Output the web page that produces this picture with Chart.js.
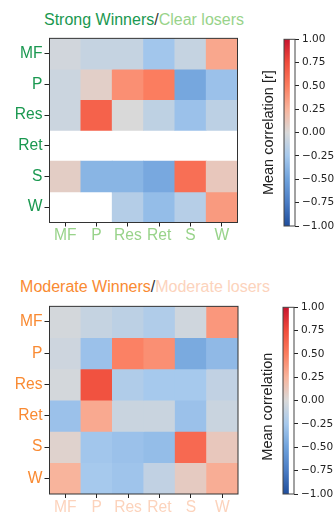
<!DOCTYPE html>
<html>
<head>
<meta charset="utf-8">
<script src="https://cdn.jsdelivr.net/npm/chart.js@4.4.1/dist/chart.umd.min.js"></script>
<style>
  body { margin: 0; background: #fff; width: 336px; height: 521px; position: relative; overflow: hidden; }
  canvas { position: absolute; }
  .title { position: absolute; width: 400px; text-align: center; white-space: nowrap;
           font-family: "Liberation Sans", Arial, sans-serif; font-size: 16px; line-height: 18px; }
</style>
</head>
<body>
<div class="title" style="left:-56px; top:10.5px">
  <span style="color:#1a9850">Strong Winners</span><span style="color:#333">/</span><span style="color:#98d38a">Clear losers</span>
</div>
<div class="title" style="left:-55px; top:277.5px">
  <span style="color:#f98a32">Moderate Winners</span><span style="color:#333">/</span><span style="color:#fcd3bc">Moderate losers</span>
</div>

<canvas id="heatTop" width="242" height="226" style="left:0; top:27px"></canvas>
<canvas id="barTop" width="81" height="206" style="left:255px; top:30px"></canvas>
<canvas id="heatBottom" width="242" height="230" style="left:0; top:295px"></canvas>
<canvas id="barBottom" width="82" height="206" style="left:254px; top:298px"></canvas>

<script>
// Row / column labels (same order on both axes)
const rowLabels = ['MF', 'P', 'Res', 'Ret', 'S', 'W'];
const colLabels = ['MF', 'P', 'Res', 'Ret', 'S', 'W'];

// Mean correlation, Strong Winners / Clear losers (null = no data)
const strongMF  = [-0.04, -0.10, -0.10, -0.27, -0.10,  0.31];
const strongP   = [-0.07,  0.07,  0.42,  0.50, -0.47, -0.30];
const strongRes = [-0.07,  0.64,  0.00, -0.13, -0.30, -0.14];
const strongRet = [ null,  null,  null,  null,  null,  null];
const strongS   = [ 0.08, -0.38, -0.38, -0.46,  0.57,  0.12];
const strongW   = [ null,  null, -0.18, -0.33, -0.17,  0.37];

// Mean correlation, Moderate Winners / Moderate losers
const moderateMF  = [-0.03, -0.10, -0.14, -0.20, -0.05,  0.38];
const moderateP   = [-0.06, -0.30,  0.48,  0.42, -0.45, -0.35];
const moderateRes = [-0.03,  0.72, -0.20, -0.25, -0.25, -0.12];
const moderateRet = [-0.30,  0.30, -0.08, -0.08, -0.30, -0.08];
const moderateS   = [ 0.05, -0.27, -0.30, -0.33,  0.60,  0.12];
const moderateW   = [ 0.25, -0.25, -0.28, -0.12,  0.10,  0.28];

// Colour bar ticks and colormap stops
const colorbarTicks = [-1, -0.75, -0.5, -0.25, 0, 0.25, 0.5, 0.75, 1];
const cmapStops = [
  [-1.00, '#1f4e9c'],
  [-0.75, '#4a7cc4'],
  [-0.50, '#6fa2dc'],
  [-0.25, '#a6c9ed'],
  [ 0.00, '#d9d9d9'],
  [ 0.25, '#f8b49c'],
  [ 0.50, '#fb7d5f'],
  [ 0.75, '#f04c3c'],
  [ 1.00, '#c8142e'],
];

Chart.defaults.font.family = '"Liberation Sans", Arial, sans-serif';
Chart.defaults.animation = false;

function hexToRgb(hex) {
  const n = parseInt(hex.slice(1), 16);
  return [(n >> 16) & 255, (n >> 8) & 255, n & 255];
}

// Linear interpolation inside the colormap
function corrColor(v) {
  v = Math.max(-1, Math.min(1, v));
  for (let k = 0; k < cmapStops.length - 1; k++) {
    const [v0, c0] = cmapStops[k];
    const [v1, c1] = cmapStops[k + 1];
    if (v >= v0 && v <= v1) {
      const t = (v - v0) / (v1 - v0);
      const a = hexToRgb(c0), b = hexToRgb(c1);
      const rgb = a.map((x, i) => Math.round(x + (b[i] - x) * t));
      return `rgb(${rgb.join(',')})`;
    }
  }
  return cmapStops[cmapStops.length - 1][1];
}

// Draws the box round the plot area
const framePlugin = {
  id: 'frame',
  afterDatasetsDraw(chart, args, opts) {
    const { ctx, chartArea: { left, top, right, bottom } } = chart;
    ctx.save();
    ctx.strokeStyle = opts.color || '#333';
    ctx.lineWidth = 1;
    ctx.strokeRect(left, top, right - left, bottom - top);
    ctx.restore();
  }
};

function buildHeatmap(canvasId, matrix, cfg) {
  const datasets = rowLabels.map((row, i) => ({
    label: row,
    data: matrix[i].map(v => (v === null ? null : [i, i + 1])),
    backgroundColor: matrix[i].map(v => (v === null ? 'rgba(0,0,0,0)' : corrColor(v))),
    borderWidth: 0,
    grouped: false,
    barPercentage: 1,
    categoryPercentage: 1,
  }));

  return new Chart(document.getElementById(canvasId), {
    type: 'bar',
    data: { labels: colLabels, datasets },
    plugins: [framePlugin],
    options: {
      responsive: false,
      layout: { padding: { top: 10.5, right: cfg.padRight, left: 0, bottom: 0 } },
      plugins: { legend: { display: false }, tooltip: { enabled: false }, frame: { color: '#333' } },
      scales: {
        x: {
          offset: true,
          grid: { offset: false, drawOnChartArea: false, tickLength: 4, color: '#222' },
          border: { display: false },
          ticks: { color: cfg.xColor, font: { size: 15.6 }, padding: 0, maxRotation: 0, autoSkip: false },
          afterFit: scale => { scale.height = cfg.xHeight; },
        },
        y: {
          type: 'linear',
          min: 0,
          max: rowLabels.length,
          reverse: true,
          grid: { drawOnChartArea: false, tickLength: 5, color: '#222' },
          border: { display: false },
          afterBuildTicks: scale => { scale.ticks = rowLabels.map((_, i) => ({ value: i + 0.5 })); },
          ticks: {
            color: cfg.yColor,
            font: { size: 15.6 },
            padding: 2,
            callback: value => rowLabels[Math.floor(value)],
          },
          afterFit: scale => { scale.width = 49.5; },
        },
      },
    },
  });
}

function buildColorbar(canvasId, title, rightWidth) {
  return new Chart(document.getElementById(canvasId), {
    type: 'bar',
    data: {
      labels: ['cb'],
      datasets: [{
        data: [[-1, 1]],
        yAxisID: 'y',
        borderWidth: 0,
        barPercentage: 1,
        categoryPercentage: 1,
        backgroundColor(ctx) {
          const chart = ctx.chart;
          if (!chart.chartArea) return null;
          const y = chart.scales.y;
          const g = chart.ctx.createLinearGradient(0, y.getPixelForValue(-1), 0, y.getPixelForValue(1));
          cmapStops.forEach(([v, c]) => g.addColorStop((v + 1) / 2, c));
          return g;
        },
      }],
    },
    plugins: [framePlugin],
    options: {
      responsive: false,
      layout: { padding: { top: 7.5, bottom: 10, left: 0, right: 0 } },
      plugins: { legend: { display: false }, tooltip: { enabled: false }, frame: { color: '#444' } },
      scales: {
        x: { display: false, offset: false },
        yTitle: {
          type: 'linear',
          position: 'left',
          min: -1,
          max: 1,
          grid: { display: false },
          border: { display: false },
          ticks: { display: false },
          title: {
            display: true,
            text: title,
            color: '#222',
            font: { size: 14.5 },
            padding: { top: 5.3, bottom: 0 },
          },
          afterFit: scale => { scale.width = 29; },
        },
        y: {
          type: 'linear',
          position: 'right',
          min: -1,
          max: 1,
          grid: { drawOnChartArea: false, tickLength: 4, color: '#222' },
          border: { display: false },
          afterBuildTicks: scale => { scale.ticks = colorbarTicks.map(v => ({ value: v })); },
          ticks: {
            color: '#222',
            padding: 3,
            font: { family: '"DejaVu Sans", sans-serif', size: 10.5 },
            callback: value => value.toFixed(2).replace('-', '\u2212'),
          },
          afterFit: scale => { scale.width = rightWidth; },
        },
      },
    },
  });
}

buildHeatmap('heatTop', [strongMF, strongP, strongRes, strongRet, strongS, strongW],
  { xColor: '#98d38a', yColor: '#1a9850', padRight: 4.5, xHeight: 30.5 });
buildColorbar('barTop', 'Mean correlation [r]', 41);

buildHeatmap('heatBottom', [moderateMF, moderateP, moderateRes, moderateRet, moderateS, moderateW],
  { xColor: '#fcd3bc', yColor: '#f98a32', padRight: 4, xHeight: 31 });
buildColorbar('barBottom', 'Mean correlation   ', 42);
</script>
</body>
</html>
